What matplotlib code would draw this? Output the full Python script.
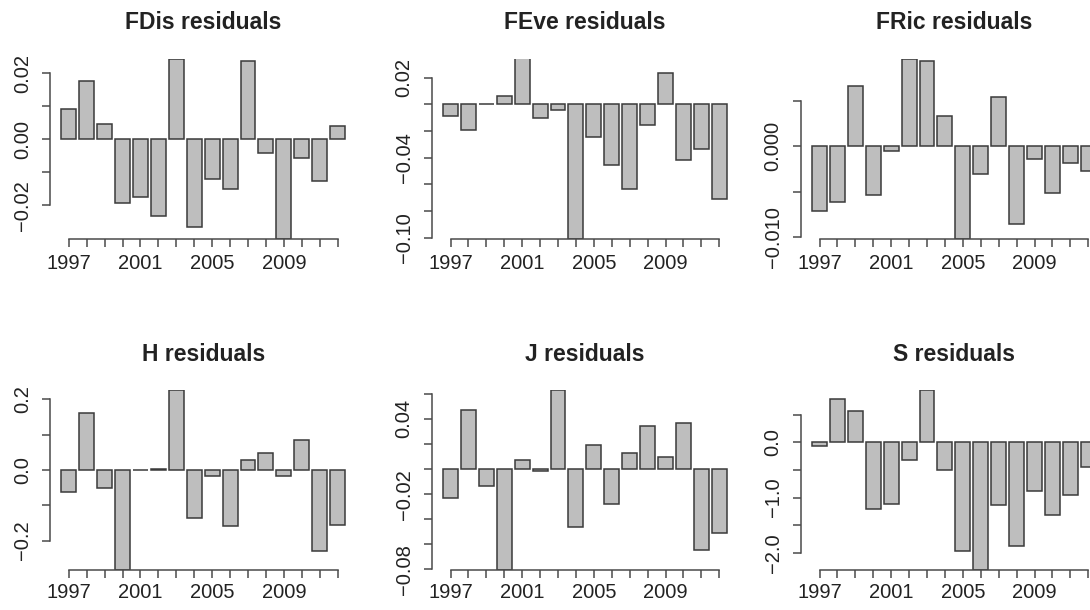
import matplotlib.pyplot as plt

plt.rcParams['font.family'] = ['Liberation Sans', 'DejaVu Sans']

years = list(range(1997, 2013))
shown_years = [1997, 2001, 2005, 2009]

fdis = [0.0091, 0.0177, 0.0047, -0.0193, -0.0176, -0.0233, 0.0245, -0.0267,
        -0.0120, -0.0149, 0.0237, -0.0042, -0.0301, -0.0057, -0.0126, 0.0039]
feve = [-0.0090, -0.0190, 0.0005, 0.0063, 0.0345, -0.0098, -0.0038, -0.1008,
        -0.0243, -0.0458, -0.0635, -0.0158, 0.0238, -0.0418, -0.0335, -0.0708]
fric = [-0.0071, -0.0061, 0.0067, -0.0054, -0.0005, 0.0097, 0.0094, 0.0034,
        -0.0102, -0.0030, 0.0054, -0.0086, -0.0014, -0.0052, -0.0018, -0.0027]
h_res = [-0.0635, 0.162, -0.052, -0.2834, 0.0015, 0.002, 0.2275, -0.1346,
         -0.018, -0.158, 0.0284, 0.0483, -0.0161, 0.0853, -0.2303, -0.157]
j_res = [-0.0229, 0.0467, -0.0136, -0.0805, 0.0075, -0.0013, 0.0632, -0.0459,
         0.0195, -0.0275, 0.0131, 0.0344, 0.0096, 0.0371, -0.0643, -0.0509]
s_res = [-0.06, 0.787, 0.569, -1.205, -1.114, -0.327, 0.950, -0.496,
         -1.961, -2.312, -1.132, -1.870, -0.878, -1.314, -0.950, -0.448]

# y ticks and which of them get a label (R drops the ones that would overlap)
panels = [
    ('FDis residuals', fdis, [0.02, 0.01, 0.0, -0.01, -0.02],
     ['0.02', '', '0.00', '', '-0.02']),
    ('FEve residuals', feve, [0.02, 0.0, -0.02, -0.04, -0.06, -0.08, -0.10],
     ['0.02', '', '', '-0.04', '', '', '-0.10']),
    ('FRic residuals', fric, [0.005, 0.0, -0.005, -0.010],
     ['', '0.000', '', '-0.010']),
    ('H residuals', h_res, [0.2, 0.1, 0.0, -0.1, -0.2],
     ['0.2', '', '0.0', '', '-0.2']),
    ('J residuals', j_res, [0.06, 0.04, 0.02, 0.0, -0.02, -0.04, -0.06, -0.08],
     ['', '0.04', '', '', '-0.02', '', '', '-0.08']),
    ('S residuals', s_res, [0.5, 0.0, -0.5, -1.0, -1.5, -2.0],
     ['', '0.0', '', '-1.0', '', '-2.0']),
]

W, H = 1090, 610
lefts = [50, 431.7, 800.7]
bottoms = [238.7, 570]
pw, ph = 306.4, 180.2

fig = plt.figure(figsize=(W / 100, H / 100), dpi=100)
fig.patch.set_facecolor('white')

axis_col = '#4a4a4a'
text_col = '#222222'
xs = [0.7 + 1.2 * i for i in range(len(years))]

for k, (title, vals, yt, ylab) in enumerate(panels):
    row, col = divmod(k, 3)
    ax = fig.add_axes([lefts[col] / W, (H - bottoms[row]) / H, pw / W, ph / H])
    ax.bar(xs, vals, width=1.0, color='#bebebe', edgecolor='#3a3a3a', linewidth=1.1)
    ax.set_xlim(-0.56, 19.96)
    ax.set_ylim(min(vals), max(vals))

    ax.set_xticks(xs)
    ax.set_xticklabels([str(y) if y in shown_years else '' for y in years])
    ax.set_yticks(yt)
    ax.set_yticklabels([s.replace('-', '\u2212') for s in ylab], rotation=90, va='center')

    for s in ['top', 'right']:
        ax.spines[s].set_visible(False)
    ax.spines['left'].set_bounds(min(yt), max(yt))
    ax.spines['bottom'].set_bounds(xs[0], xs[-1])
    for s in ['left', 'bottom']:
        ax.spines[s].set_color(axis_col)
        ax.spines[s].set_linewidth(1.1)

    ax.tick_params(axis='both', length=6, width=1.1, color=axis_col,
                   labelsize=14.5, labelcolor=text_col)
    ax.tick_params(axis='x', pad=5 if row == 0 else 3.5)
    ax.tick_params(axis='y', pad=7)
    ax.set_title(title, fontsize=16.5, fontweight='bold', color=text_col, pad=21)

fig.savefig('out.png', dpi=100)
